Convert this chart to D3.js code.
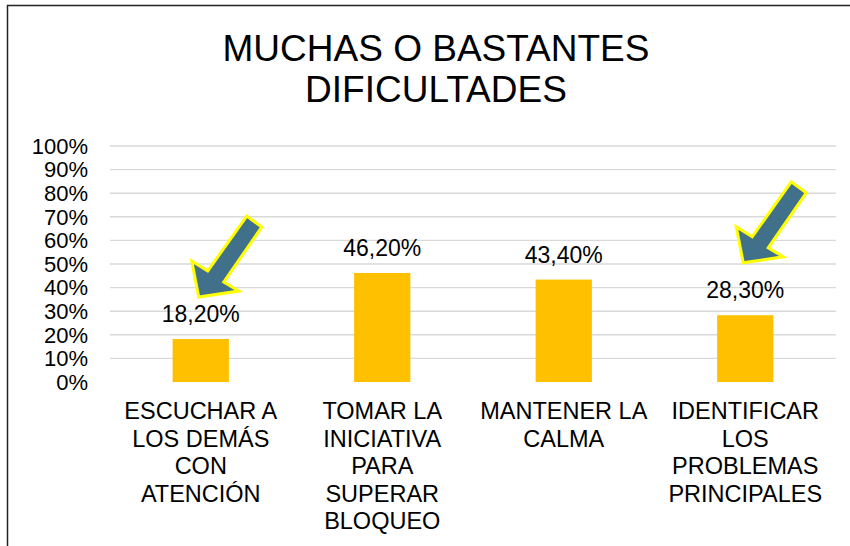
<!DOCTYPE html>
<html lang="es">
<head>
<meta charset="UTF-8">
<title>Muchas o bastantes dificultades</title>
<style>
  body { margin: 0; background: #fff; }
  svg text { font-family: "Liberation Sans", Arial, sans-serif; fill: #000; }
</style>
</head>
<body>
<svg width="850" height="546"></svg>
<script src="https://d3js.org/d3.v7.min.js"></script>
<script>
// chart data
var titleLines = ["MUCHAS O BASTANTES", "DIFICULTADES"];
var categories = ["escuchar", "iniciativa", "calma", "problemas"];
var categoryLines = [
    ["ESCUCHAR A", "LOS DEMÁS", "CON", "ATENCIÓN"],
    ["TOMAR LA", "INICIATIVA", "PARA", "SUPERAR", "BLOQUEO"],
    ["MANTENER LA", "CALMA"],
    ["IDENTIFICAR", "LOS", "PROBLEMAS", "PRINCIPALES"]
];
var values = [0.182, 0.462, 0.434, 0.283];
var yTicks = [0, 0.1, 0.2, 0.3, 0.4, 0.5, 0.6, 0.7, 0.8, 0.9, 1];
// arrows point at these categories, tip at this value
var arrowCats = ["escuchar", "problemas"];
var arrowTips = [0.36, 0.505];

var svg = d3.select("svg"),
    width = +svg.attr("width"),
    height = +svg.attr("height");

var plotLeft = 110, plotRight = 836, plotTop = 146, plotBottom = 382;

var x = d3.scaleBand()
    .domain(categories)
    .range([plotLeft, plotRight])
    .paddingInner(0.69)
    .paddingOuter(0.345);

var y = d3.scaleLinear()
    .domain([0, 1])
    .range([plotBottom, plotTop]);

var es = d3.formatLocale({ decimal: ",", thousands: ".", grouping: [3], currency: ["", "€"] });
var pct2 = es.format(".2%");
var pct0 = es.format(".0%");

// frame
svg.append("path")
    .attr("d", "M7.5," + (height + 2) + "V5.5H" + (width + 2))
    .attr("fill", "none")
    .attr("stroke", "#222")
    .attr("stroke-width", 1.5);

// title
svg.append("text")
    .attr("text-anchor", "middle")
    .attr("font-size", 37)
    .selectAll("tspan")
    .data(titleLines).enter()
    .append("tspan")
    .attr("x", 436)
    .attr("y", function (d, i) { return 61 + i * 41; })
    .text(d => d);

// gridlines
svg.append("g")
    .selectAll("line")
    .data(yTicks.filter(d => d > 0)).enter()
    .append("line")
    .attr("x1", plotLeft)
    .attr("x2", plotRight)
    .attr("y1", d => y(d))
    .attr("y2", d => y(d))
    .attr("stroke", "#d9d9d9")
    .attr("stroke-width", 1.4);

// y axis labels
svg.append("g")
    .selectAll("text")
    .data(yTicks).enter()
    .append("text")
    .attr("x", 88)
    .attr("y", d => y(d))
    .attr("dy", "0.35em")
    .attr("text-anchor", "end")
    .attr("font-size", 22)
    .text(d => pct0(d));

// bars
svg.append("g")
    .selectAll("rect")
    .data(values).enter()
    .append("rect")
    .attr("x", (d, i) => x(categories[i]))
    .attr("width", x.bandwidth())
    .attr("y", d => y(d))
    .attr("height", d => y(0) - y(d))
    .attr("fill", "#ffc000");

// value labels
svg.append("g")
    .selectAll("text")
    .data(values).enter()
    .append("text")
    .attr("x", (d, i) => x(categories[i]) + x.bandwidth() / 2)
    .attr("y", d => y(d) - 17)
    .attr("text-anchor", "middle")
    .attr("font-size", 23)
    .text(d => pct2(d));

// category labels
var cat = svg.append("g")
    .selectAll("text")
    .data(categoryLines).enter()
    .append("text")
    .attr("text-anchor", "middle")
    .attr("font-size", 23.5);

cat.selectAll("tspan")
    .data(function (d, i) { return d.map(t => ({ t: t, c: categories[i] })); })
    .enter()
    .append("tspan")
    .attr("x", d => x(d.c) + x.bandwidth() / 2)
    .attr("y", function (d, i) { return 419 + i * 27.5; })
    .text(d => d.t);

// arrows (tip at origin, pointing down-left)
var arrowShape = [[0, 0], [40, -6], [25, -15], [63, -70], [48, -81], [9, -26], [-7, -36]];

svg.append("g")
    .selectAll("polygon")
    .data(arrowCats).enter()
    .append("polygon")
    .attr("points", arrowShape.map(p => p.join(",")).join(" "))
    .attr("transform", function (d, i) {
        return "translate(" + (x(d) + x.bandwidth() / 2 - 2) + "," + y(arrowTips[i]) + ")";
    })
    .attr("fill", "#41718a")
    .attr("stroke", "#ffff00")
    .attr("stroke-width", 3)
    .attr("stroke-linejoin", "miter");
</script>
</body>
</html>
